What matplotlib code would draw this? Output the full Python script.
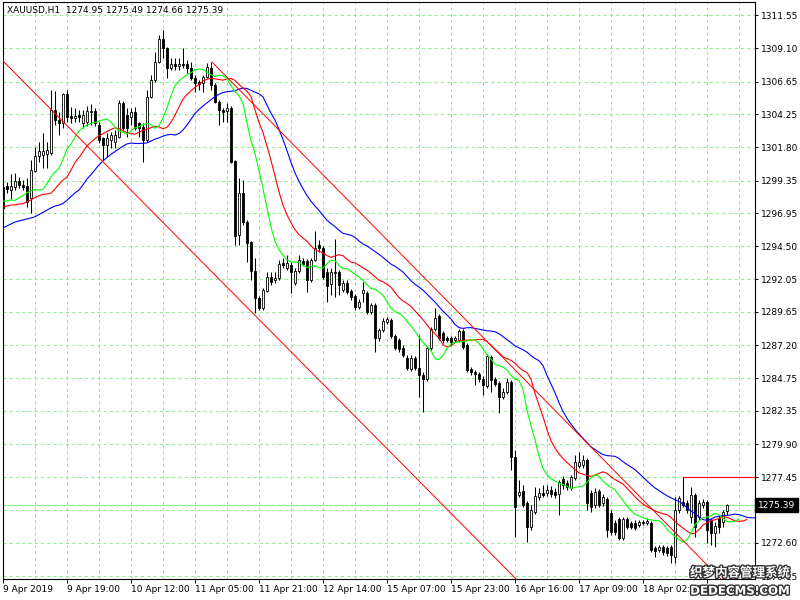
import matplotlib
matplotlib.use('Agg')
import matplotlib.pyplot as plt
import matplotlib.patheffects as pe
import numpy as np

symbol = 'XAUUSD,H1'

# H1 bars, 9 Apr 2019 03:00 .. 19 Apr
opens = [
    1298.88, 1298.95, 1298.66, 1298.88, 1299.32, 1299.03, 1298.95, 1298.07, 1300.06, 1301.17,
    1301.24, 1301.31, 1301.39, 1304.56, 1303.82, 1303.60, 1305.74, 1304.12, 1303.97, 1304.19,
    1303.60, 1303.68, 1304.41, 1304.49, 1303.45, 1302.49, 1301.98, 1302.35, 1302.20, 1302.57,
    1305.08, 1304.19, 1304.04, 1304.41, 1303.60, 1303.31, 1302.35, 1305.52, 1306.78, 1308.10,
    1309.80, 1309.14, 1307.66, 1307.96, 1307.81, 1307.96, 1307.96, 1307.66, 1306.92, 1306.63,
    1306.55, 1307.00, 1307.66, 1306.41, 1305.15, 1304.56, 1304.49, 1304.71, 1300.80, 1295.33,
    1298.44, 1296.29, 1294.82, 1292.68, 1290.68, 1289.95, 1291.20, 1292.23, 1292.01, 1292.16,
    1293.27, 1292.90, 1293.12, 1291.79, 1292.68, 1293.42, 1293.42, 1292.01, 1293.49, 1294.60,
    1294.37, 1292.60, 1291.72, 1292.53, 1292.60, 1291.28, 1291.79, 1291.20, 1290.83, 1290.02,
    1291.05, 1291.05, 1289.65, 1290.17, 1287.73, 1288.32, 1288.91, 1289.06, 1287.88, 1287.58,
    1286.99, 1286.26, 1285.44, 1286.26, 1285.52, 1285.00, 1284.71, 1286.99, 1288.40, 1289.36,
    1288.10, 1287.73, 1287.73, 1287.58, 1287.58, 1288.25, 1287.22, 1285.44, 1285.22, 1285.08,
    1284.71, 1284.19, 1286.33, 1284.71, 1284.41, 1283.38, 1283.75, 1284.48, 1278.95, 1276.14,
    1276.44, 1275.55, 1273.78, 1274.89, 1276.00, 1276.29, 1276.29, 1276.51, 1276.37, 1276.22,
    1277.33, 1277.03, 1276.66, 1277.40, 1278.28, 1278.36, 1278.73, 1276.29, 1275.41, 1276.44,
    1275.55, 1275.85, 1274.82, 1274.08, 1274.37, 1272.97, 1274.37, 1274.08, 1274.08, 1273.93,
    1274.15, 1274.08, 1274.08, 1272.23, 1272.08, 1272.31, 1272.23, 1272.31, 1271.57, 1275.04,
    1275.63, 1275.55, 1274.52, 1276.14, 1274.52, 1275.41, 1275.63, 1274.30, 1273.34, 1274.45,
    1274.15, 1274.95]
highs = [
    1299.03, 1299.25, 1299.84, 1299.91, 1299.62, 1299.39, 1299.54, 1300.87, 1301.83, 1302.20,
    1302.86, 1302.20, 1306.04, 1305.96, 1304.41, 1305.82, 1306.04, 1304.78, 1304.71, 1304.56,
    1304.56, 1304.86, 1305.00, 1304.71, 1303.68, 1302.57, 1302.86, 1302.94, 1303.09, 1305.30,
    1305.22, 1304.71, 1304.71, 1304.78, 1303.68, 1303.60, 1306.04, 1307.14, 1308.84, 1310.10,
    1310.47, 1309.21, 1308.40, 1308.40, 1308.40, 1309.14, 1308.25, 1308.10, 1307.14, 1306.78,
    1307.14, 1308.03, 1308.10, 1306.55, 1305.30, 1304.71, 1305.08, 1304.86, 1300.87, 1299.54,
    1299.39, 1296.44, 1294.89, 1293.64, 1290.83, 1291.42, 1292.60, 1292.60, 1292.60, 1293.49,
    1293.64, 1293.86, 1293.34, 1292.90, 1293.86, 1293.64, 1293.56, 1293.64, 1295.63, 1294.97,
    1294.52, 1292.90, 1292.90, 1295.04, 1292.75, 1292.01, 1292.01, 1291.35, 1290.98, 1290.61,
    1291.87, 1291.20, 1290.32, 1290.32, 1288.47, 1289.21, 1289.28, 1289.21, 1288.03, 1287.73,
    1287.22, 1286.48, 1286.48, 1286.40, 1287.95, 1285.22, 1287.14, 1288.54, 1289.95, 1289.50,
    1288.25, 1287.88, 1287.88, 1287.88, 1288.40, 1288.40, 1287.36, 1285.59, 1285.37, 1285.22,
    1284.93, 1286.55, 1286.48, 1284.85, 1284.56, 1284.04, 1284.78, 1284.63, 1279.47, 1277.25,
    1276.88, 1275.70, 1275.41, 1276.73, 1276.66, 1276.88, 1276.88, 1276.81, 1276.66, 1277.25,
    1277.55, 1277.25, 1277.62, 1279.10, 1279.32, 1279.10, 1278.88, 1276.51, 1276.66, 1276.59,
    1276.22, 1276.00, 1275.04, 1274.30, 1274.52, 1274.52, 1274.52, 1274.23, 1274.30, 1274.30,
    1274.30, 1274.45, 1274.23, 1272.38, 1272.45, 1272.45, 1272.38, 1272.45, 1276.00, 1276.07,
    1277.47, 1275.78, 1276.73, 1276.29, 1275.78, 1275.85, 1275.78, 1274.45, 1274.15, 1274.67,
    1275.04, 1275.49]
lows = [
    1296.44, 1298.44, 1297.99, 1298.66, 1298.80, 1298.66, 1297.40, 1296.96, 1299.98, 1300.72,
    1300.28, 1300.28, 1301.24, 1303.45, 1302.72, 1303.23, 1303.68, 1303.60, 1303.68, 1303.68,
    1303.23, 1303.38, 1303.45, 1303.38, 1302.13, 1300.87, 1301.09, 1301.76, 1301.76, 1302.49,
    1303.09, 1302.57, 1303.45, 1303.09, 1302.57, 1300.72, 1302.20, 1305.45, 1306.63, 1308.03,
    1308.40, 1306.92, 1307.51, 1307.51, 1307.51, 1307.66, 1307.29, 1306.78, 1305.89, 1306.04,
    1305.89, 1306.92, 1306.04, 1305.08, 1303.45, 1303.68, 1303.68, 1300.65, 1294.60, 1294.60,
    1296.07, 1293.34, 1292.01, 1289.58, 1289.80, 1289.80, 1291.13, 1291.64, 1291.79, 1292.01,
    1292.90, 1292.75, 1291.05, 1291.64, 1292.53, 1293.05, 1291.13, 1291.87, 1293.42, 1294.08,
    1292.09, 1290.39, 1290.91, 1290.76, 1290.91, 1291.13, 1290.98, 1290.54, 1289.80, 1289.87,
    1290.39, 1289.50, 1289.50, 1286.70, 1287.51, 1288.18, 1288.77, 1287.73, 1286.85, 1286.70,
    1286.33, 1285.37, 1285.30, 1285.37, 1283.38, 1282.27, 1284.56, 1286.85, 1288.25, 1287.58,
    1287.36, 1287.44, 1287.22, 1287.44, 1287.44, 1286.92, 1285.22, 1285.00, 1284.26, 1284.48,
    1283.53, 1284.04, 1283.75, 1284.19, 1282.20, 1283.23, 1283.60, 1277.99, 1273.04, 1276.00,
    1275.26, 1272.68, 1273.56, 1274.74, 1275.78, 1276.00, 1276.07, 1276.00, 1275.92, 1274.67,
    1276.59, 1276.51, 1276.51, 1277.25, 1278.14, 1278.14, 1275.04, 1274.89, 1275.18, 1275.26,
    1275.33, 1273.04, 1273.19, 1273.19, 1272.82, 1272.82, 1273.63, 1273.63, 1273.56, 1273.78,
    1273.93, 1273.93, 1271.94, 1271.57, 1271.94, 1271.72, 1271.64, 1271.13, 1271.13, 1274.82,
    1275.26, 1274.82, 1274.08, 1273.04, 1274.30, 1275.18, 1272.60, 1272.45, 1272.31, 1273.34,
    1273.78, 1274.66]
closes = [
    1297.33, 1298.73, 1298.95, 1299.32, 1299.03, 1298.88, 1297.77, 1300.13, 1301.17, 1301.54,
    1301.54, 1301.61, 1304.56, 1303.82, 1303.60, 1305.74, 1304.04, 1303.97, 1304.12, 1304.04,
    1304.19, 1304.49, 1304.49, 1303.60, 1302.35, 1301.98, 1302.49, 1302.72, 1302.72, 1305.08,
    1303.23, 1303.23, 1304.41, 1303.23, 1303.23, 1302.35, 1305.52, 1306.78, 1308.10, 1309.80,
    1309.14, 1307.66, 1307.96, 1307.81, 1307.96, 1307.88, 1307.66, 1306.92, 1306.55, 1306.48,
    1307.00, 1307.73, 1306.41, 1305.15, 1304.56, 1304.41, 1304.71, 1300.72, 1295.26, 1298.44,
    1296.29, 1294.74, 1292.68, 1290.68, 1289.95, 1291.28, 1292.23, 1291.87, 1292.16, 1293.19,
    1293.12, 1293.27, 1292.60, 1292.68, 1293.49, 1293.19, 1292.01, 1293.49, 1294.37, 1294.37,
    1292.23, 1291.57, 1292.60, 1292.60, 1291.64, 1291.79, 1291.13, 1290.76, 1290.02, 1290.39,
    1291.28, 1289.65, 1290.17, 1287.73, 1288.32, 1288.99, 1289.13, 1287.88, 1286.99, 1286.92,
    1286.48, 1285.52, 1286.26, 1285.52, 1285.00, 1284.71, 1286.99, 1288.40, 1289.21, 1287.73,
    1287.58, 1287.58, 1287.44, 1287.73, 1288.25, 1287.07, 1285.37, 1285.22, 1285.08, 1284.71,
    1284.26, 1286.40, 1284.63, 1284.34, 1283.38, 1283.75, 1284.48, 1278.95, 1275.26, 1276.37,
    1275.41, 1273.78, 1275.04, 1276.07, 1276.29, 1276.14, 1276.51, 1276.22, 1276.14, 1277.10,
    1276.88, 1276.73, 1277.47, 1278.58, 1278.58, 1278.73, 1275.55, 1275.26, 1276.37, 1275.41,
    1276.00, 1273.56, 1273.41, 1273.41, 1272.97, 1274.37, 1273.78, 1273.78, 1273.71, 1274.15,
    1274.08, 1274.23, 1272.08, 1272.01, 1272.31, 1271.94, 1271.86, 1271.72, 1275.04, 1275.92,
    1275.41, 1275.04, 1276.14, 1273.78, 1275.55, 1275.63, 1273.56, 1273.34, 1273.86, 1273.78,
    1274.89, 1275.39]

# alligator values drawn before the first computed point (jaw/teeth/lips)
jaw_lead = [1295.85, 1296.00, 1296.15, 1296.29, 1296.37, 1296.44, 1296.52, 1296.59]
teeth_lead = [1297.40, 1297.48, 1297.55, 1297.55, 1297.62]
lips_lead = [1297.84, 1297.84, 1297.92]

price_ticks = [1311.55, 1309.10, 1306.65, 1304.25, 1301.80, 1299.35, 1296.95, 1294.50,
               1292.05, 1289.65, 1287.20, 1284.75, 1282.35, 1279.90, 1277.45, 1275.05,
               1272.60, 1270.15]
date_bars = [0, 16, 32, 48, 64, 80, 96, 112, 128, 144, 160, 176]
date_labels = ['9 Apr 2019', '9 Apr 19:00', '10 Apr 12:00', '11 Apr 05:00', '11 Apr 21:00',
               '12 Apr 14:00', '15 Apr 07:00', '15 Apr 23:00', '16 Apr 16:00',
               '17 Apr 09:00', '18 Apr 02:00', '18 Apr 18:00']

# drawn objects: channel lines and a level
trend_a = [(0, 1308.18), (128, 1270.02)]
trend_b = [(52.25, 1308.10), (176, 1270.98)]
level_bar, level_price = 170, 1277.45

o = np.array(opens)
h = np.array(highs)
l = np.array(lows)
c = np.array(closes)
x = np.arange(len(o))

grid_col = '#90ee90'
fs = 6.5

fig = plt.figure(figsize=(8, 6), dpi=100)
# plot frame in pixels: x 2.5..755, y 2..579
ax = fig.add_axes([2.5 / 800, 1 - 579 / 600, 752.5 / 800, 577 / 600])
ax.set_xlim(-0.125, 188)
ax.set_ylim(1269.94, 1312.53)

for p in price_ticks:
    ax.axhline(p, color=grid_col, lw=0.75, ls=(0, (3, 3)), zorder=0)
for b in range(8, 188, 8):
    ax.axvline(b, color=grid_col, lw=0.75, ls=(0, (3, 3)), zorder=0)

# bid line
ax.axhline(c[-1], color=grid_col, lw=0.9, zorder=1)

# candles
up = c >= o
ax.vlines(x, l, h, color='black', lw=0.75, zorder=3)
ax.bar(x[up], (c - o)[up], bottom=o[up], width=0.6, color='white',
       edgecolor='black', lw=0.6, zorder=4)
ax.bar(x[~up], (o - c)[~up], bottom=c[~up], width=0.6, color='black',
       edgecolor='black', lw=0.6, zorder=4)


# alligator (smoothed MA of median price, shifted forward)
def smma(values, period, start):
    out = []
    s = start
    for v in values:
        s = (s * (period - 1) + v) / period
        out.append(s)
    return out


med = (h + l) / 2
jaw = jaw_lead + smma(med, 13, jaw_lead[-1])
teeth = teeth_lead + smma(med, 8, teeth_lead[-1])
lips = lips_lead + smma(med, 5, lips_lead[-1])
ax.plot(np.arange(len(jaw)), jaw, color='#0000ff', lw=0.8, zorder=5)
ax.plot(np.arange(len(teeth)), teeth, color='#ff0000', lw=0.8, zorder=5)
ax.plot(np.arange(len(lips)), lips, color='#00ff00', lw=0.8, zorder=5)

# channel lines
ax.axline(trend_a[0], trend_a[1], color='#ff0000', lw=0.7, zorder=6)
k = (trend_b[1][1] - trend_b[0][1]) / (trend_b[1][0] - trend_b[0][0])
ax.plot([trend_b[0][0], 200], [trend_b[0][1], trend_b[0][1] + k * (200 - trend_b[0][0])],
        color='#ff0000', lw=0.7, zorder=6)
ax.plot([level_bar, 200], [level_price, level_price], color='#ff0000', lw=0.8, zorder=6)

# axes look
for s in ax.spines.values():
    s.set_color('black')
    s.set_linewidth(0.8)
ax.yaxis.tick_right()
ax.set_yticks(price_ticks)
ax.set_yticklabels(['%.2f' % p for p in price_ticks])
ax.tick_params(axis='y', direction='out', length=2.5, width=0.7, pad=2, labelsize=fs,
               colors='black')
ax.set_xticks(date_bars)
ax.set_xticklabels(date_labels, ha='left')
ax.tick_params(axis='x', direction='out', length=3, width=0.7, pad=1.5, labelsize=fs,
               colors='black')

ax.text(4.5 / 752.5, 1 - 8.5 / 577,
        '%s  %.2f %.2f %.2f %.2f' % (symbol, o[-1], h[-1], l[-1], c[-1]),
        transform=ax.transAxes, ha='left', va='center', fontsize=fs, color='black',
        zorder=10)

# current price box
ax.text(1.004, c[-1], '%.2f' % c[-1], transform=ax.get_yaxis_transform(),
        ha='left', va='center', fontsize=fs, color='white', clip_on=False, zorder=20,
        bbox=dict(boxstyle='square,pad=0.3', fc='black', ec='black'))

# watermark
wm = [pe.withStroke(linewidth=2, foreground='#333333')]
fig.text(740 / 800, 1 - 573 / 600, '织梦内容管理系统', ha='center', va='center',
         fontsize=9, color='white', family=['Noto Sans CJK SC', 'DejaVu Sans'],
         fontweight='bold', path_effects=wm, zorder=30)
fig.text(740 / 800, 1 - 591 / 600, 'DEDECMS.COM', ha='center', va='center',
         fontsize=8.5, color='white', family=['DejaVu Sans'], fontweight='bold',
         path_effects=wm, zorder=30)

fig.savefig('out.png', dpi=100)
